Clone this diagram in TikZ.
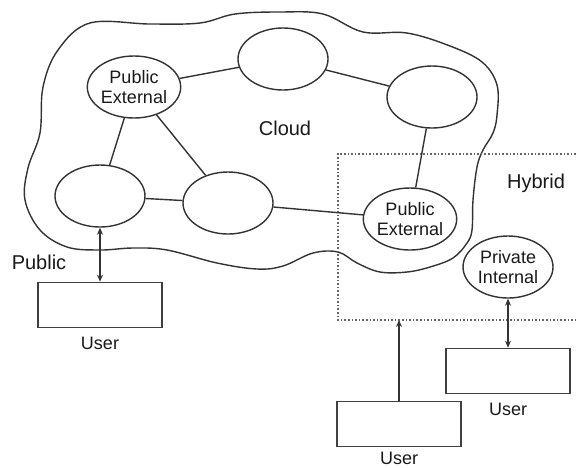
\documentclass[tikz,border=0pt]{standalone}
\usepackage{fontspec}
\setmainfont{Liberation Sans}
\usetikzlibrary{arrows.meta,
                positioning,
                shapes.geometric}

\begin{document}
\begin{tikzpicture}[
        x=0.5pt, y=-0.5pt,
        every node/.style={font=\fontsize{9}{10}\selectfont, align=center, text=black!90},
        site/.style={draw=black!80, line width=0.7pt, ellipse, minimum width=45pt, minimum height=31pt, inner sep=0pt},
        userbox/.style={draw=black!75, line width=0.7pt, minimum width=62pt, minimum height=22.5pt, inner sep=0pt},
        biglabel/.style={font=\fontsize{10}{12}\selectfont},
        link/.style={draw=black!80, line width=0.7pt},
        access/.style={draw=black!80, line width=0.7pt, {Stealth[length=3.5pt,width=3pt]}-{Stealth[length=3.5pt,width=3pt]}}
        ]
        \useasboundingbox (0,0) rectangle (576,467);

        % Cloud outline
        \draw[black!80, line width=0.7pt] plot[smooth cycle, tension=0.6] coordinates {
            (90,23) (150,24) (200,23) (235,14) (280,12) (323,14) (363,32) (407,33)
            (450,46) (482,62) (497,85) (497,115) (493,133) (483,150) (477,167)
            (473,200) (472,230) (467,243) (453,258) (430,267) (407,272) (380,272)
            (357,263) (338,252) (313,253) (283,266) (257,269) (217,263) (167,250)
            (133,248) (100,250) (67,247) (40,230) (25,200) (28,168) (40,133)
            (43,87) (58,50)};

        % Hybrid region
        \draw[black!60, thick, densely dotted] (576,154) -- (338,154) -- (338,320) -- (576,320);
        \coordinate (hybbot) at (399,320);

        % Nodes
        \node[site] (pubext) at (134,87) {Public\\External};
        \node[site] (topsite) at (283,59) {};
        \node[site] (rightsite) at (432,97) {};
        \node[site] (leftsite) at (100,196) {};
        \node[site] (midsite) at (228,203) {};
        \node[site] (pubexthyb) at (410,219) {Public\\External};
        \node[site] (privint) at (508,267) {Private\\Internal};

        \node[userbox, below=27pt of leftsite] (userpub) {};
        \node[userbox, below=24.5pt of privint] (userpriv) {};
        \node[userbox] (userhyb) at (399,424) {};

        \node[below=1pt of userpub] (userpublbl) {User};
        \node[below=1pt of userpriv] (userprivlbl) {User};
        \node[below=-1pt of userhyb] (userhyblbl) {User};

        \node[biglabel] (cloudlbl) at (285,128) {Cloud};
        \node[biglabel] (hyblbl) at (536,183) {Hybrid};
        \node[biglabel] (publbl) at (39,262) {Public};

        % Links
        \draw[link] (pubext) -- (topsite);
        \draw[link] (pubext) -- (leftsite);
        \draw[link] (pubext) -- (midsite);
        \draw[link] (topsite) -- (rightsite);
        \draw[link] (rightsite) -- (pubexthyb);
        \draw[link] (leftsite) -- (midsite);
        \draw[link] (midsite) -- (pubexthyb);

        % Arrows
        \draw[access] (userpub) -- (leftsite);
        \draw[access] (userpriv) -- (privint);
        \draw[link, -{Stealth[length=3.5pt,width=3pt]}] (userhyb) -- (hybbot);

\end{tikzpicture}
\end{document}
